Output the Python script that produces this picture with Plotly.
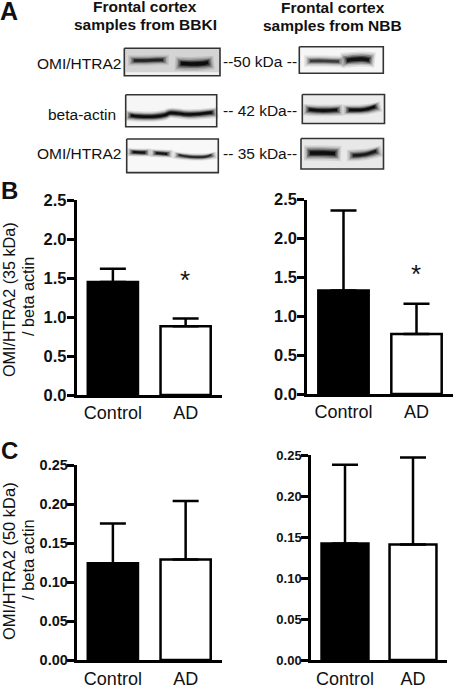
import plotly.graph_objects as go

W, H = 453, 688
categories = ["Control", "AD"]
b_left_mean = [1.45, 0.88]
b_left_top = [1.62, 0.98]
b_right_mean = [1.33, 0.77]
b_right_top = [2.36, 1.16]
c_left_mean = [0.124, 0.129]
c_left_top = [0.175, 0.204]
c_right_mean = [0.142, 0.141]
c_right_top = [0.238, 0.247]
b_ticks = [0, 0.5, 1.0, 1.5, 2.0, 2.5]
c_ticks = [0, 0.05, 0.10, 0.15, 0.20, 0.25]

# mean, top, px box (left, right, top, bottom), y ticks, format, tick font size
panels = [
    (b_left_mean, b_left_top, (76.5, 222, 200, 395), b_ticks, ".1f", 16.5),
    (b_right_mean, b_right_top, (307, 453, 199.5, 394), b_ticks, ".1f", 16.5),
    (c_left_mean, c_left_top, (76.5, 222, 465, 660), c_ticks, ".2f", 14.5),
    (c_right_mean, c_right_top, (311, 447, 455, 660), c_ticks, ".2f", 13),
]

# blots: frame px box and background
frames = [
    (124.3, 220, 48.3, 75.7, "#d4d4d4"),
    (125.7, 216.7, 94.7, 126.7, "#f6f6f6"),
    (126.7, 218.3, 139, 172.6, "#f8f8f8"),
    (299.3, 383.3, 46.7, 73.3, "#f6f6f6"),
    (302.3, 384.5, 94.5, 123.5, "#ececec"),
    (301, 383.5, 138.5, 169, "#e8e8e8"),
]
# bands: x list, y list, core width, strength
bands = [
    ([131, 145, 158, 166], [60.5, 60.5, 60, 60], 4.5, 0.75),
    ([178, 190, 203, 211], [63.5, 64, 63.5, 62.5], 6, 1.0),
    ([128, 140, 155, 165, 170, 190, 215], [115.5, 116.5, 116.5, 115, 113, 114.5, 112.5], 4.5, 1.0),
    ([130, 140, 148], [152, 152.5, 152.5], 3.5, 0.95),
    ([153, 162, 170], [153, 153.5, 154], 3.5, 0.9),
    ([176, 190, 205, 214], [155, 156.8, 156.8, 155], 3.2, 0.75),
    ([307, 325, 342], [61, 61, 61.5], 5, 0.6),
    ([344, 352, 362, 372], [60.5, 59.5, 59, 60], 6.5, 0.95),
    ([306, 320, 340], [109.5, 110.5, 110], 5, 1.0),
    ([346, 365, 378], [110, 109.5, 106.5], 4.5, 1.0),
    ([307, 325, 338], [153, 153, 153.5], 6.5, 1.0),
    ([350, 365, 379], [155.5, 154.5, 151], 5, 0.85),
]
# light streak along the lower edge of the first blot
streak_x = [126, 219]
streak_y = [73.5, 73.5]

fig = go.Figure()
layout = dict(
    width=W, height=H, autosize=False, margin=dict(l=0, r=0, t=0, b=0),
    paper_bgcolor="white", plot_bgcolor="rgba(0,0,0,0)", showlegend=False,
    font=dict(family="Liberation Sans", color="#111"),
    xaxis99=dict(domain=[0, 1], range=[0, W], visible=False, anchor="y99", automargin=False),
    yaxis99=dict(domain=[0, 1], range=[H, 0], visible=False, anchor="x99", automargin=False),
    bargap=0.31,
)

for l, r, t, b, bg in frames:
    fig.add_trace(go.Scatter(
        x=[l, r, r, l, l], y=[t, t, b, b, t], mode="lines", fill="toself", fillcolor=bg,
        line=dict(color="rgba(0,0,0,0)", width=0), xaxis="x99", yaxis="y99", hoverinfo="skip"))

fig.add_trace(go.Scatter(x=streak_x, y=streak_y, mode="lines", opacity=0.7,
                         line=dict(color="white", width=2.5), xaxis="x99", yaxis="y99", hoverinfo="skip"))

for xs, ys, w, s in bands:
    for mult, op, ext in [(2.3, 0.10, 3), (1.8, 0.16, 1.5), (1.35, 0.3, 0), (0.95, 0.5, -1.5), (0.55, 0.85, -3)]:
        px = list(xs)
        px[0] -= ext
        px[-1] += ext
        fig.add_trace(go.Scatter(
            x=px, y=ys, mode="lines", opacity=op * s,
            line=dict(color="#050505", width=w * mult, shape="spline"),
            xaxis="x99", yaxis="y99", hoverinfo="skip"))

for l, r, t, b, bg in frames:
    fig.add_trace(go.Scatter(
        x=[l, r, r, l, l], y=[t, t, b, b, t], mode="lines",
        line=dict(color="#333333", width=1.6), xaxis="x99", yaxis="y99", hoverinfo="skip"))

for i, (mean, top, (l, r, t, b), ticks, fmt, fs) in enumerate(panels, start=1):
    xn, yn = f"x{i}", f"y{i}"
    fig.add_trace(go.Bar(
        x=categories, y=mean, xaxis=xn, yaxis=yn,
        marker=dict(color=["black", "white"], line=dict(color="black", width=2.5)),
        error_y=dict(type="data", symmetric=False,
                     array=[tv - m for tv, m in zip(top, mean)], arrayminus=[0, 0],
                     color="black", thickness=2.5, width=13),
    ))
    layout[f"xaxis{i}"] = dict(
        domain=[l / W, r / W], anchor=yn, type="category", range=[-0.5, 1.5], automargin=False,
        showline=True, linecolor="black", linewidth=2.5, ticks="", showgrid=False,
        zeroline=False, ticklabelstandoff=0 if i < 3 else 1,
        tickfont=dict(family="Liberation Sans", size=18, color="#111"))
    layout[f"yaxis{i}"] = dict(
        domain=[1 - b / H, 1 - t / H], anchor=xn, range=[0, ticks[-1]], automargin=False,
        tickvals=ticks, tickformat=fmt, showline=True, linecolor="black", linewidth=2.5,
        ticks="outside", ticklen=7, tickwidth=2.5, tickcolor="black",
        showgrid=False, zeroline=False, ticklabelstandoff=-4 if i == 3 else -3,
        tickfont=dict(family="Liberation Sans", size=fs, color="#111", weight="bold"))

texts = [
    ("A", 9, 11, 25, True, 0), ("B", 9, 190, 24, True, 0), ("C", 9, 450, 24, True, 0),
    ("Frontal cortex", 145, 6, 15.5, True, 0), ("samples from BBKI", 145, 25, 15.5, True, 0),
    ("Frontal cortex", 332.5, 7, 15.5, True, 0), ("samples from NBB", 332.5, 26, 15.5, True, 0),
    ("OMI/HTRA2", 79, 63, 15.5, False, 0), ("beta-actin", 82, 115, 15.5, False, 0),
    ("OMI/HTRA2", 79, 154, 15.5, False, 0),
    ("--50 kDa --", 260, 61.5, 15.5, False, 0), ("-- 42 kDa--", 260, 111, 15.5, False, 0),
    ("-- 35 kDa--", 260, 153, 15.5, False, 0),
    ("OMI/HTRA2 (35 kDa)", 9, 300, 16.2, False, -90), ("/ beta actin", 28, 297, 16.2, False, -90),
    ("OMI/HTRA2 (50 kDa)", 9, 561, 16.5, False, -90), ("/ beta actin", 28, 560, 16.5, False, -90),
    ("*", 185, 280, 26, False, 0), ("*", 416, 274, 26, False, 0),
]
layout["annotations"] = [
    dict(text=f"<b>{s}</b>" if bold else s, x=x / W, y=1 - y / H, xref="paper", yref="paper",
         xanchor="center", yanchor="middle", showarrow=False, textangle=ang,
         font=dict(family="Liberation Sans", size=fs, color="#111"))
    for s, x, y, fs, bold, ang in texts
]
fig.update_layout(**layout)
fig.write_html("out.html", config=dict(displayModeBar=False),
               post_script="document.body.style.margin='0';")
